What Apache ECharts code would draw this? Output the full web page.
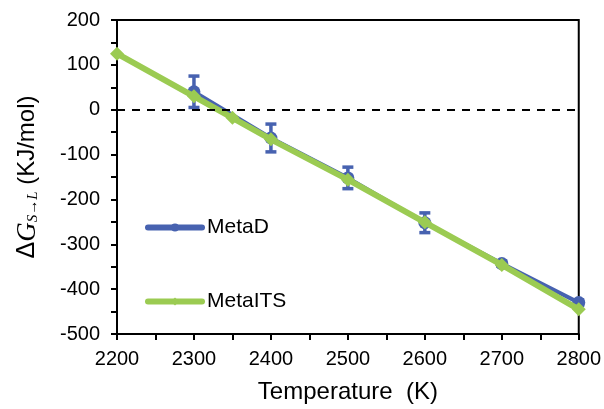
<!DOCTYPE html>
<html><head><meta charset="utf-8">
<script src="https://cdn.jsdelivr.net/npm/echarts@6/dist/echarts.min.js"></script>
<style>html,body{margin:0;padding:0;background:#fff}#c{width:604px;height:409px}</style>
</head><body><div id="c"></div>
<script>
const metaDT = [2300, 2400, 2500, 2600, 2700, 2800];
const metaDG = [40, -63, -152, -252, -343, -430];
const metaDErr = [35, 31, 24, 22, 6, 6];
const metaITST = [2200, 2300, 2350, 2400, 2500, 2600, 2700, 2800];
const metaITSG = [125, 30, -18, -66, -156, -251, -346, -445];
const xTicks = [2200, 2300, 2400, 2500, 2600, 2700, 2800];
const yTicks = [200, 100, 0, -100, -200, -300, -400, -500];
const zeroLevel = 0;

const BLUE = '#4762B0', GREEN = '#9BCB52';
const FONT = 'Liberation Sans';
const chart = echarts.init(document.getElementById('c'));
const errData = metaDT.map((t, i) => [t, metaDG[i] - metaDErr[i], metaDG[i] + metaDErr[i]]);
const legendCommon = {itemWidth: 54, itemHeight: 10, itemGap: 0, padding: 0,
  lineStyle: {width: 6, cap: 'round'},
  textStyle: {fontFamily: FONT, fontSize: 21, color: '#000'}};
chart.setOption({
  animation: false,
  textStyle: {fontFamily: FONT},
  grid: {left: 117, right: 25, top: 20, bottom: 75, show: true, borderColor: '#000', borderWidth: 2},
  legend: [
    Object.assign({data: ['MetaD'], left: 145, top: 217}, legendCommon),
    Object.assign({data: ['MetaITS'], left: 145, top: 291}, legendCommon)
  ],
  xAxis: {
    type: 'value', min: xTicks[0], max: xTicks[xTicks.length - 1], interval: 100,
    name: 'Temperature  (K)', nameLocation: 'middle', nameGap: 46,
    nameTextStyle: {fontFamily: FONT, fontSize: 24, color: '#000'},
    axisLine: {onZero: false, lineStyle: {color: '#000', width: 2}},
    axisTick: {show: true, length: 6, lineStyle: {color: '#000', width: 2}},
    minorTick: {show: true, splitNumber: 2, length: 6, lineStyle: {color: '#000', width: 2}},
    splitLine: {show: false},
    axisLabel: {fontFamily: FONT, fontSize: 20, color: '#000', margin: 15, formatter: v => String(v)}
  },
  yAxis: {
    type: 'value', min: yTicks[yTicks.length - 1], max: yTicks[0], interval: 100,
    name: '{d|Δ}{g|G}{s|S→L}{n| (KJ/mol)}', nameLocation: 'middle', nameGap: 76, nameRotate: 90,
    nameTextStyle: {fontFamily: FONT, fontSize: 24, color: '#000',
      rich: {
        d: {fontFamily: FONT, fontSize: 25, color: '#000'},
        g: {fontFamily: 'Liberation Serif', fontStyle: 'italic', fontSize: 27, color: '#000'},
        s: {fontFamily: 'Liberation Serif', fontStyle: 'italic', fontSize: 15, color: '#000', verticalAlign: 'bottom', padding: [10, 0, 0, 0]},
        n: {fontFamily: FONT, fontSize: 24, color: '#000'}
      }},
    axisLine: {onZero: false, lineStyle: {color: '#000', width: 2}},
    axisTick: {show: true, length: 6, lineStyle: {color: '#000', width: 2}},
    minorTick: {show: true, splitNumber: 2, length: 6, lineStyle: {color: '#000', width: 2}},
    splitLine: {show: false},
    axisLabel: {fontFamily: FONT, fontSize: 20, color: '#000', margin: 17}
  },
  series: [
    {
      name: 'MetaD', type: 'line', data: metaDT.map((t, i) => [t, metaDG[i]]),
      symbol: 'circle', symbolSize: 13, color: BLUE,
      lineStyle: {color: BLUE, width: 4}, itemStyle: {color: BLUE}, z: 2,
      markLine: {silent: true, symbol: 'none', label: {show: false},
        lineStyle: {color: '#000', type: [8, 7], width: 2}, data: [{yAxis: zeroLevel}]}
    },
    {
      name: 'MetaD err', type: 'custom', data: errData, z: 3,
      renderItem: function (params, api) {
        const x = api.value(0);
        const lo = api.coord([x, api.value(1)]);
        const hi = api.coord([x, api.value(2)]);
        const w = 5.5;
        const st = {stroke: BLUE, lineWidth: 3.5};
        return {type: 'group', children: [
          {type: 'line', shape: {x1: lo[0], y1: lo[1], x2: hi[0], y2: hi[1]}, style: st},
          {type: 'line', shape: {x1: lo[0] - w, y1: lo[1], x2: lo[0] + w, y2: lo[1]}, style: st},
          {type: 'line', shape: {x1: hi[0] - w, y1: hi[1], x2: hi[0] + w, y2: hi[1]}, style: st}
        ]};
      }
    },
    {
      name: 'MetaITS', type: 'line', data: metaITST.map((t, i) => [t, metaITSG[i]]),
      symbol: 'diamond', symbolSize: 14, color: GREEN,
      lineStyle: {color: GREEN, width: 6}, itemStyle: {color: GREEN}, z: 4
    }
  ]
});
</script></body></html>
